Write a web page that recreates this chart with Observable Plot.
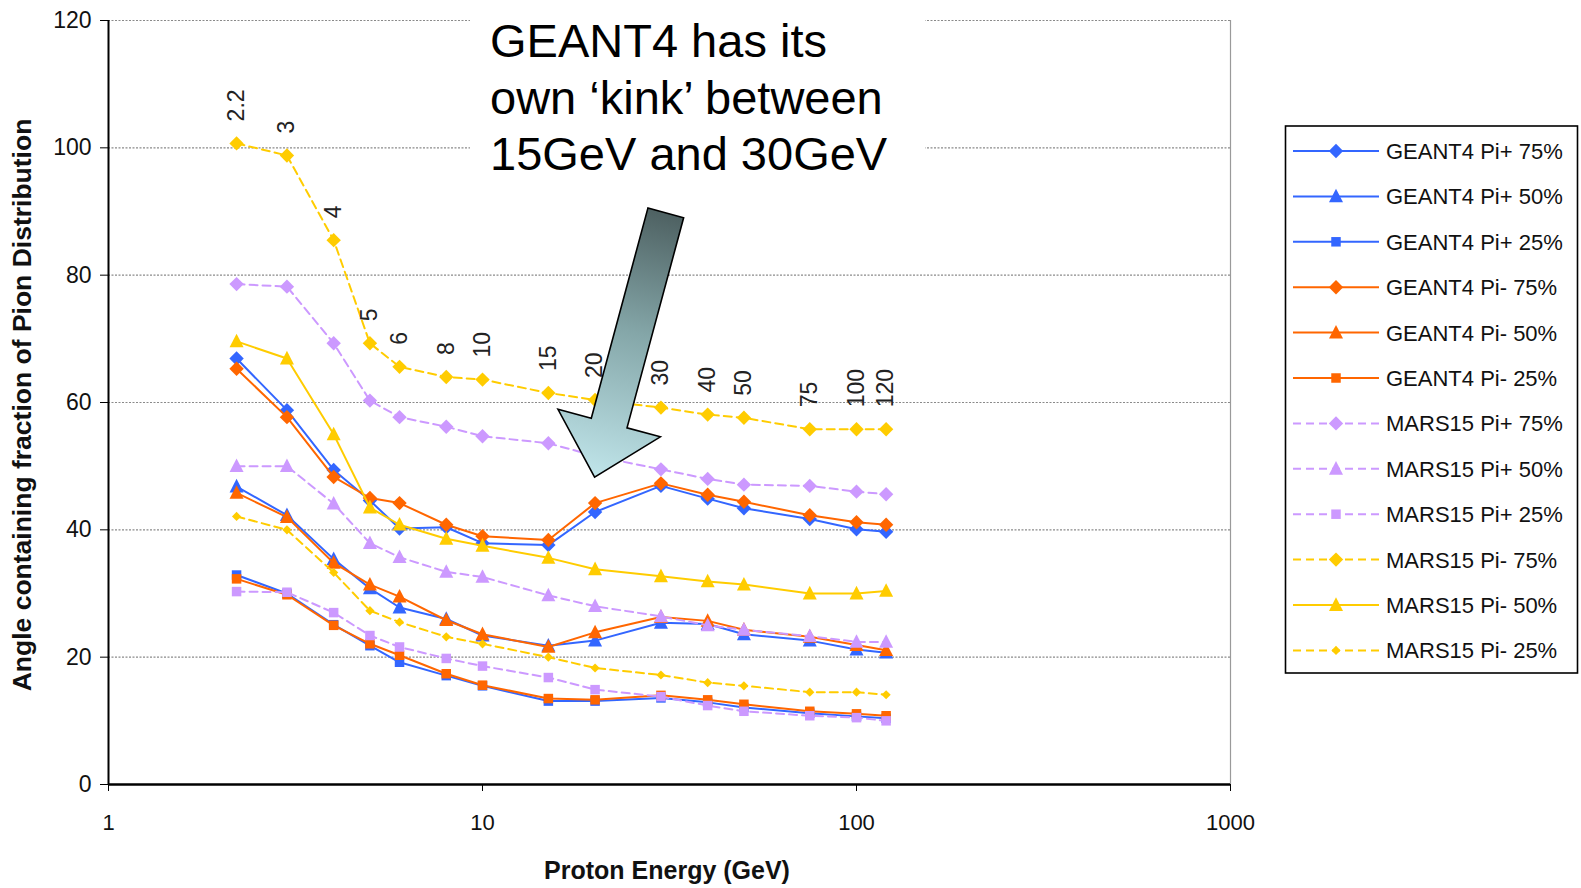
<!DOCTYPE html>
<html><head><meta charset="utf-8">
<script src="https://cdn.jsdelivr.net/npm/d3@7"></script>
<script src="https://cdn.jsdelivr.net/npm/@observablehq/plot@0.6"></script>
<style>
html,body{margin:0;padding:0;background:#fff;}
#chart{width:1581px;height:888px;position:relative;overflow:hidden;}
</style></head><body><div id="chart"></div>
<script>
// ---- data ----
const energies = [2.2, 3, 4, 5, 6, 8, 10, 15, 20, 30, 40, 50, 75, 100, 120];
const energyLabels = ["2.2","3","4","5","6","8","10","15","20","30","40","50","75","100","120"];
const xTicks = [1, 10, 100, 1000];
const yTicks = [0, 20, 40, 60, 80, 100, 120];

const seriesNames = [
  "GEANT4 Pi+ 75%", "GEANT4 Pi+ 50%", "GEANT4 Pi+ 25%",
  "GEANT4 Pi- 75%", "GEANT4 Pi- 50%", "GEANT4 Pi- 25%",
  "MARS15 Pi+ 75%", "MARS15 Pi+ 50%", "MARS15 Pi+ 25%",
  "MARS15 Pi- 75%", "MARS15 Pi- 50%", "MARS15 Pi- 25%"
];
const geant4PiPlus75  = [66.9, 58.8, 49.4, 44.6, 40.2, 40.4, 37.9, 37.6, 42.8, 46.9, 44.9, 43.4, 41.7, 40.1, 39.7];
const geant4PiPlus50  = [46.8, 42.3, 35.4, 30.8, 27.8, 26.0, 23.4, 21.8, 22.6, 25.4, 25.2, 23.6, 22.6, 21.2, 20.7];
const geant4PiPlus25  = [32.9, 30.0, 25.1, 21.8, 19.2, 17.1, 15.5, 13.1, 13.1, 13.6, 12.9, 12.1, 11.2, 10.7, 10.4];
const geant4PiMinus75 = [65.3, 57.7, 48.3, 45.0, 44.2, 40.8, 39.0, 38.4, 44.2, 47.3, 45.5, 44.4, 42.3, 41.2, 40.8];
const geant4PiMinus50 = [45.8, 42.0, 34.8, 31.4, 29.5, 25.8, 23.6, 21.6, 23.9, 26.3, 25.7, 24.3, 23.2, 21.9, 21.1];
const geant4PiMinus25 = [32.3, 29.8, 25.0, 22.1, 20.3, 17.4, 15.6, 13.5, 13.3, 14.0, 13.3, 12.6, 11.5, 11.1, 10.8];
const mars15PiPlus75  = [78.6, 78.2, 69.3, 60.3, 57.7, 56.2, 54.7, 53.6, 51.6, 49.5, 48.0, 47.1, 46.9, 46.0, 45.6];
const mars15PiPlus50  = [50.0, 50.0, 44.1, 37.9, 35.7, 33.4, 32.6, 29.7, 28.0, 26.4, 25.0, 24.3, 23.3, 22.4, 22.4];
const mars15PiPlus25  = [30.3, 30.2, 27.0, 23.4, 21.6, 19.8, 18.6, 16.8, 14.9, 13.8, 12.4, 11.5, 10.8, 10.5, 10.0];
const mars15PiMinus75 = [100.7, 98.8, 85.5, 69.3, 65.6, 64.0, 63.6, 61.5, 60.4, 59.2, 58.1, 57.6, 55.8, 55.8, 55.8];
const mars15PiMinus50 = [69.6, 66.9, 55.0, 43.5, 40.8, 38.6, 37.5, 35.6, 33.8, 32.7, 31.9, 31.4, 30.0, 30.0, 30.4];
const mars15PiMinus25 = [42.1, 40.0, 33.3, 27.3, 25.5, 23.2, 22.1, 20.0, 18.3, 17.2, 16.0, 15.5, 14.5, 14.5, 14.1];

const seriesValues = [
  geant4PiPlus75, geant4PiPlus50, geant4PiPlus25,
  geant4PiMinus75, geant4PiMinus50, geant4PiMinus25,
  mars15PiPlus75, mars15PiPlus50, mars15PiPlus25,
  mars15PiMinus75, mars15PiMinus50, mars15PiMinus25
];

const annotationLines = ["GEANT4 has its", "own \u2018kink\u2019 between", "15GeV and 30GeV"];
const xTitle = "Proton Energy (GeV)";
const yTitle = "Angle containing fraction of Pion Distribution";

// ---- styles ----
const BLUE = "#3366ff", ORANGE = "#ff6600", PURPLE = "#cc99ff", YELLOW = "#ffcc00";
function diamondSym(h) { return {draw(c) { c.moveTo(0, -h); c.lineTo(h, 0); c.lineTo(0, h); c.lineTo(-h, 0); c.closePath(); }}; }
function triangleSym(w) { return {draw(c) { c.moveTo(0, -w * 0.55); c.lineTo(w / 2, w * 0.42); c.lineTo(-w / 2, w * 0.42); c.closePath(); }}; }
function squareSym(s) { return {draw(c) { c.rect(-s / 2, -s / 2, s, s); }}; }
const DIA = diamondSym(7.2), TRI = triangleSym(14), SQ = squareSym(9.5), SDIA = diamondSym(4.6);
const DASH = "8,5";
const seriesStyles = [
  {color: BLUE, sym: DIA, dash: null}, {color: BLUE, sym: TRI, dash: null}, {color: BLUE, sym: SQ, dash: null},
  {color: ORANGE, sym: DIA, dash: null}, {color: ORANGE, sym: TRI, dash: null}, {color: ORANGE, sym: SQ, dash: null},
  {color: PURPLE, sym: DIA, dash: DASH}, {color: PURPLE, sym: TRI, dash: DASH}, {color: PURPLE, sym: SQ, dash: DASH},
  {color: YELLOW, sym: DIA, dash: DASH}, {color: YELLOW, sym: TRI, dash: null}, {color: YELLOW, sym: SDIA, dash: DASH}
];

const FONT = "'Liberation Sans', Arial, Helvetica, sans-serif";

// ---- marks ----
const seriesMarks = [];
seriesNames.forEach((name, i) => {
  const rows = energies.map((e, j) => ({e, v: seriesValues[i][j]}));
  const st = seriesStyles[i];
  seriesMarks.push(Plot.line(rows, {x: "e", y: "v", stroke: st.color, strokeWidth: 2, strokeDasharray: st.dash || undefined}));
  seriesMarks.push(Plot.dot(rows, {x: "e", y: "v", symbol: st.sym, fill: st.color, stroke: "none", r: 5}));
});

const labelRows = energies.map((e, j) => ({e, v: mars15PiMinus75[j], t: energyLabels[j]}));

const chart = Plot.plot({
  width: 1581, height: 888,
  marginLeft: 108, marginRight: 351, marginTop: 20, marginBottom: 104,
  style: {fontFamily: FONT, background: "white", color: "#000", overflow: "visible"},
  x: {type: "log", domain: [1, 1000]},
  y: {domain: [0, 120]},
  marks: [
    Plot.gridY(yTicks.filter(d => d > 0), {stroke: "#8a8a8a", strokeOpacity: 1, strokeWidth: 1.2, strokeDasharray: "2,1.5"}),
    Plot.ruleX([1000], {stroke: "#9a9a9a", strokeWidth: 1.2}),
    ...seriesMarks,
    Plot.text(labelRows, {x: "e", y: "v", text: "t", rotate: -90, textAnchor: "start", dy: -22, fontSize: 23, fill: "#222"}),
    Plot.axisY(yTicks, {tickSize: 8, tickPadding: 9, fontSize: 23, label: null, stroke: "#000", fill: "#111"}),
    Plot.axisX(xTicks, {tickSize: 7, tickPadding: 23, fontSize: 22, label: null, tickFormat: d => String(d), stroke: "#000", fill: "#111"}),
    Plot.ruleY([0], {stroke: "#000", strokeWidth: 2.5}),
    Plot.ruleX([1], {stroke: "#000", strokeWidth: 2})
  ]
});
document.getElementById("chart").appendChild(chart);

// ---- annotations, titles, legend ----
const svg = d3.select(chart);
const sx = chart.scale("x"), sy = chart.scale("y");
const px = v => sx.apply(v), py = v => sy.apply(v);

// axis titles
svg.append("text").attr("x", 667).attr("y", 870).attr("text-anchor", "middle").attr("dy", "0.35em")
  .attr("font-family", FONT).attr("font-size", 25).attr("font-weight", "bold").attr("fill", "#111").text(xTitle);
svg.append("text").attr("transform", "translate(22,405) rotate(-90)").attr("text-anchor", "middle").attr("dy", "0.35em")
  .attr("font-family", FONT).attr("font-size", 26.5).attr("font-weight", "bold").attr("fill", "#111").text(yTitle);

// text box annotation
svg.append("rect").attr("x", 470).attr("y", 0).attr("width", 455).attr("height", 192).attr("fill", "white");
annotationLines.forEach((t, i) => {
  svg.append("text").attr("x", 490).attr("y", 57 + i * 56.5).attr("text-anchor", "start")
    .attr("font-family", FONT).attr("font-size", 47).attr("fill", "#000").text(t);
});

// arrow (defined in data space: tail near 31 GeV, tip pointing at 20 GeV)
const arrowTail = {x: 31, y: 89.7}, arrowTip = {x: 20, y: 48.2};
const T = [px(arrowTail.x), py(arrowTail.y)], P = [px(arrowTip.x), py(arrowTip.y)];
const dx = P[0] - T[0], dy = P[1] - T[1], L = Math.hypot(dx, dy);
const ux = dx / L, uy = dy / L, nx = -uy, ny = ux;
const shaftHW = 18.5, headHW = 53, headLen = 56;
const nk = [P[0] - ux * headLen, P[1] - uy * headLen];
const pts = [
  [T[0] + nx * shaftHW, T[1] + ny * shaftHW],
  [nk[0] + nx * shaftHW, nk[1] + ny * shaftHW],
  [nk[0] + nx * headHW, nk[1] + ny * headHW],
  P,
  [nk[0] - nx * headHW, nk[1] - ny * headHW],
  [nk[0] - nx * shaftHW, nk[1] - ny * shaftHW],
  [T[0] - nx * shaftHW, T[1] - ny * shaftHW]
];
const defs = svg.append("defs");
const grad = defs.append("linearGradient").attr("id", "arrowGrad").attr("gradientUnits", "userSpaceOnUse")
  .attr("x1", T[0]).attr("y1", T[1]).attr("x2", P[0]).attr("y2", P[1]);
grad.append("stop").attr("offset", "0%").attr("stop-color", "#4e6162");
grad.append("stop").attr("offset", "45%").attr("stop-color", "#84a6a8");
grad.append("stop").attr("offset", "100%").attr("stop-color", "#c0e5ea");
svg.append("polygon").attr("points", pts.map(p => p.join(",")).join(" "))
  .attr("fill", "url(#arrowGrad)").attr("stroke", "#000").attr("stroke-width", 1.6).attr("stroke-linejoin", "miter");

// legend
const lg = svg.append("g");
lg.append("rect").attr("x", 1285.5).attr("y", 126).attr("width", 292).attr("height", 547)
  .attr("fill", "white").attr("stroke", "#000").attr("stroke-width", 1.6);
seriesNames.forEach((name, i) => {
  const y = 151 + i * 45.4;
  const st = seriesStyles[i];
  lg.append("line").attr("x1", 1293).attr("x2", 1379).attr("y1", y).attr("y2", y)
    .attr("stroke", st.color).attr("stroke-width", 2).attr("stroke-dasharray", st.dash || null);
  lg.append("path").attr("d", d3.symbol(st.sym)()).attr("transform", `translate(1336,${y})`).attr("fill", st.color);
  lg.append("text").attr("x", 1386).attr("y", y).attr("dy", "0.36em").attr("text-anchor", "start")
    .attr("font-family", FONT).attr("font-size", 22).attr("fill", "#111").text(name);
});
</script>
</body></html>
